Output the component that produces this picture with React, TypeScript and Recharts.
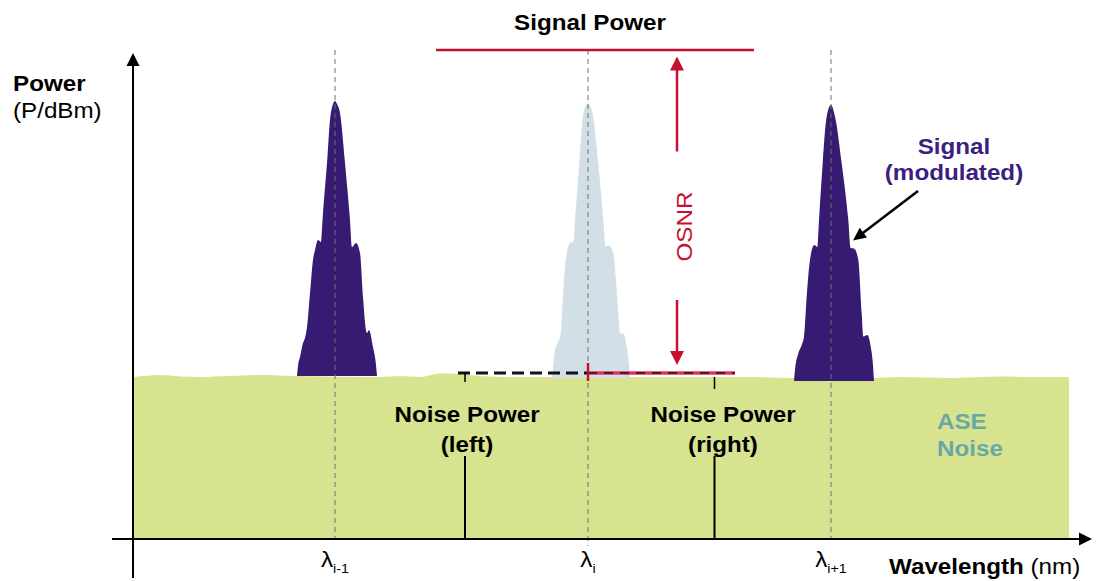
import React from 'react';
import { ComposedChart, Area, XAxis, YAxis, ReferenceLine, ReferenceDot } from 'recharts';

const FONT = '"Liberation Sans", Arial, Helvetica, sans-serif';
const SX = 1.1;

const GREEN = '#d7e38e';
const PURPLE = '#371a72';
const LIGHT = '#d3dfe7';
const RED = '#c8102e';
const TEAL = '#6aa8a8';
const PURPLE_TXT = '#3c2080';

// ASE noise floor (relative wavelength, relative power)
const aseNoise = [
  { x: 0, y: 32.4 }, { x: 2.7, y: 32.8 }, { x: 4.7, y: 32.5 }, { x: 6.7, y: 32.4 },
  { x: 9.7, y: 32.6 }, { x: 12.7, y: 32.8 }, { x: 16.4, y: 32.6 }, { x: 24.7, y: 32.4 },
  { x: 26.7, y: 32.6 }, { x: 28.7, y: 32.4 }, { x: 30.7, y: 33.1 }, { x: 32.7, y: 33.0 },
  { x: 34.7, y: 32.6 }, { x: 37.7, y: 32.4 }, { x: 41.7, y: 32.4 }, { x: 49.7, y: 32.4 },
  { x: 56.7, y: 32.4 }, { x: 61.7, y: 32.4 }, { x: 66.0, y: 32.2 }, { x: 74.2, y: 32.2 },
  { x: 76.7, y: 32.4 }, { x: 81.7, y: 32.2 }, { x: 86.7, y: 32.5 }, { x: 89.7, y: 32.4 },
  { x: 93.6, y: 32.4 },
];

// Modulated channel spectra
const channelPrev = [
  { x: 16.4, y: 32.6 }, { x: 16.5, y: 34.6 }, { x: 16.7, y: 36.4 }, { x: 17.0, y: 39.2 },
  { x: 17.2, y: 40.2 }, { x: 17.4, y: 42.4 }, { x: 17.7, y: 49.2 }, { x: 18.0, y: 55.8 },
  { x: 18.2, y: 57.8 }, { x: 18.5, y: 59.8 }, { x: 18.8, y: 59.4 }, { x: 19.0, y: 65.2 },
  { x: 19.4, y: 75.2 }, { x: 19.7, y: 83.8 }, { x: 20.0, y: 87.0 }, { x: 20.2, y: 87.6 },
  { x: 20.4, y: 87.0 }, { x: 20.7, y: 85.2 }, { x: 21.2, y: 75.2 }, { x: 21.7, y: 63.8 },
  { x: 21.9, y: 58.4 }, { x: 22.3, y: 59.2 }, { x: 22.7, y: 57.2 }, { x: 23.0, y: 48.4 },
  { x: 23.4, y: 41.2 }, { x: 23.6, y: 41.8 }, { x: 24.0, y: 38.4 }, { x: 24.3, y: 34.8 },
  { x: 24.4, y: 32.6 },
];
const channelCur = [
  { x: 41.87, y: 32.2 }, { x: 41.95, y: 33.2 }, { x: 42.2, y: 37.8 }, { x: 42.53, y: 39.5 },
  { x: 42.77, y: 41.1 }, { x: 42.95, y: 46.8 }, { x: 43.1, y: 51.8 }, { x: 43.37, y: 57.1 },
  { x: 43.77, y: 59.3 }, { x: 44.03, y: 59.4 }, { x: 44.2, y: 63.8 }, { x: 44.63, y: 75.1 },
  { x: 45.03, y: 85.1 }, { x: 45.47, y: 87.1 }, { x: 45.87, y: 85.8 }, { x: 46.53, y: 75.1 },
  { x: 47.03, y: 63.8 }, { x: 47.27, y: 58.5 }, { x: 47.6, y: 58.7 }, { x: 48.03, y: 57.1 },
  { x: 48.3, y: 51.8 }, { x: 48.53, y: 45.1 }, { x: 48.7, y: 41.1 }, { x: 49.03, y: 41.1 },
  { x: 49.37, y: 38.5 }, { x: 49.6, y: 34.8 }, { x: 49.7, y: 32.2 },
];
const channelNext = [
  { x: 66.1, y: 31.6 }, { x: 66.2, y: 33.8 }, { x: 66.53, y: 37.1 }, { x: 66.87, y: 38.8 },
  { x: 67.1, y: 40.5 }, { x: 67.37, y: 48.5 }, { x: 67.7, y: 55.8 }, { x: 68.13, y: 58.8 },
  { x: 68.43, y: 58.4 }, { x: 68.6, y: 63.8 }, { x: 68.97, y: 75.1 }, { x: 69.37, y: 84.5 },
  { x: 69.8, y: 86.8 }, { x: 70.2, y: 84.5 }, { x: 70.87, y: 75.1 }, { x: 71.53, y: 63.8 },
  { x: 71.77, y: 58.2 }, { x: 72.1, y: 58.1 }, { x: 72.53, y: 55.8 }, { x: 72.87, y: 45.1 },
  { x: 73.03, y: 40.5 }, { x: 73.43, y: 40.8 }, { x: 73.77, y: 38.5 }, { x: 74.0, y: 34.8 },
  { x: 74.1, y: 31.6 },
];
const channelBase = [32.6, 32.2, 31.6];

const channelCenters = [20.2, 45.5, 69.8];
const channelSubs = ['i-1', 'i', 'i+1'];

const SIGNAL_LEVEL = 97.8;
const SIGNAL_SPAN = [30.3, 62.1];
const NOISE_LEVEL = 33.2;
const NOISE_LEFT = 32.5;
const NOISE_RIGHT = 60.2;
const NOISE_LEFT_MARK = 33.2;
const NOISE_RIGHT_MARK = 58.15;
const OSNR_X = 54.4;

const X_DOMAIN = [-13.3, 97.1];
const Y_DOMAIN = [-8.4, 107.8];

const arrowShape = (len: number, half: number) => (p: any) => {
  const { x1, y1, x2, y2, stroke, strokeWidth } = p;
  const dx = x2 - x1;
  const dy = y2 - y1;
  const d = Math.hypot(dx, dy) || 1;
  const ux = dx / d;
  const uy = dy / d;
  const bx = x2 - ux * len;
  const by = y2 - uy * len;
  const px = -uy * half;
  const py = ux * half;
  return (
    <g>
      <line x1={x1} y1={y1} x2={bx + ux * 1} y2={by + uy * 1} stroke={stroke} strokeWidth={strokeWidth} />
      <polygon points={`${x2},${y2} ${bx + px},${by + py} ${bx - px},${by - py}`} fill={stroke} />
    </g>
  );
};

type TxtOpts = {
  size?: number;
  weight?: string;
  fill?: string;
  anchor?: 'start' | 'middle' | 'end';
  rotate?: number;
};

const note = (key: string, x: number, y: number, content: React.ReactNode, o: TxtOpts = {}) => (
  <ReferenceDot
    key={key}
    x={x}
    y={y}
    r={0}
    ifOverflow="visible"
    shape={(p: any) => (
      <text
        transform={`translate(${p.cx},${p.cy}) rotate(${o.rotate ?? 0}) scale(${SX},1)`}
        x={0}
        y={0}
        fontFamily={FONT}
        fontSize={o.size ?? 22}
        fontWeight={o.weight ?? 'normal'}
        fill={o.fill ?? '#000'}
        textAnchor={o.anchor ?? 'middle'}
      >
        {content}
      </text>
    )}
  />
);

const seg = (key: string, a: [number, number], b: [number, number], props: any) => (
  <ReferenceLine
    key={key}
    segment={[{ x: a[0], y: a[1] }, { x: b[0], y: b[1] }]}
    ifOverflow="visible"
    {...props}
  />
);

export default function App() {
  const peaks = [channelPrev, channelCur, channelNext];
  return (
    <div style={{ position: 'absolute', left: 0, top: 0, width: 1104, height: 581, background: '#fff' }}>
      <ComposedChart width={1104} height={581} margin={{ top: 0, right: 0, bottom: 0, left: 0 }}>
        <XAxis type="number" dataKey="x" domain={X_DOMAIN} allowDataOverflow hide />
        <YAxis type="number" dataKey="y" domain={Y_DOMAIN} allowDataOverflow hide />
        <Area
          data={aseNoise}
          dataKey="y"
          type="monotone"
          stroke="none"
          fill={GREEN}
          fillOpacity={1}
          dot={false}
          activeDot={false}
          isAnimationActive={false}
          baseValue={0}
        />
        {peaks.map((d, i) => (
          <Area
            key={'peak' + i}
            data={d}
            dataKey="y"
            type="monotone"
            stroke="none"
            fill={i === 1 ? LIGHT : PURPLE}
            fillOpacity={1}
            dot={false}
            activeDot={false}
            baseValue={channelBase[i]}
            isAnimationActive={false}
          />
        ))}

        {channelCenters.map((c, i) =>
          seg('grid' + i, [c, SIGNAL_LEVEL], [c, i === 1 ? -1.4 : 0], {
            stroke: '#707070',
            strokeWidth: 1,
            strokeDasharray: '5 4',
          })
        )}

        {/* axes */}
        {seg('yaxis', [0, -7.8], [0, 97.2], { stroke: '#000', strokeWidth: 2, shape: arrowShape(13, 6.5) })}
        {seg('xaxis', [-2.1, 0], [95.9, 0], { stroke: '#000', strokeWidth: 2, shape: arrowShape(13, 6.5) })}

        {/* signal power */}
        {seg('sig', [SIGNAL_SPAN[0], SIGNAL_LEVEL], [SIGNAL_SPAN[1], SIGNAL_LEVEL], { stroke: RED, strokeWidth: 2.5 })}
        {seg('osnrUp', [OSNR_X, 77.5], [OSNR_X, 96.5], { stroke: RED, strokeWidth: 2.5, shape: arrowShape(14, 7) })}
        {seg('osnrDown', [OSNR_X, 47.8], [OSNR_X, 34.8], { stroke: RED, strokeWidth: 2.5, shape: arrowShape(14, 7) })}

        {/* noise markers */}
        {seg('nl', [NOISE_LEFT, NOISE_LEVEL], [channelCenters[1], NOISE_LEVEL], {
          stroke: '#111',
          strokeWidth: 3,
          strokeDasharray: '12 6',
        })}
        {seg('nr', [channelCenters[1], NOISE_LEVEL], [NOISE_RIGHT, NOISE_LEVEL], { stroke: '#d8395c', strokeWidth: 3.5 })}
        {seg('nr2', [channelCenters[1], NOISE_LEVEL], [NOISE_RIGHT, NOISE_LEVEL], {
          stroke: '#2a0a10',
          strokeWidth: 1.3,
          strokeDasharray: '9 7',
        })}
        {seg('ntick', [channelCenters[1], 35.2], [channelCenters[1], 31.6], { stroke: RED, strokeWidth: 2.5 })}
        {seg('lt', [NOISE_LEFT_MARK, NOISE_LEVEL], [NOISE_LEFT_MARK, 31.4], { stroke: '#000', strokeWidth: 1.5 })}
        {seg('rt', [NOISE_RIGHT_MARK, 32.4], [NOISE_RIGHT_MARK, 30.0], { stroke: '#000', strokeWidth: 1.5 })}
        {seg('ll', [NOISE_LEFT_MARK, 16.6], [NOISE_LEFT_MARK, 0], { stroke: '#000', strokeWidth: 2 })}
        {seg('rl', [NOISE_RIGHT_MARK, 16.6], [NOISE_RIGHT_MARK, 0], { stroke: '#000', strokeWidth: 2 })}

        {/* signal pointer */}
        {seg('sp', [78.5, 69.6], [72.0, 59.7], { stroke: '#000', strokeWidth: 2.5, shape: arrowShape(13, 6) })}

        {/* texts */}
        {note('t1', 45.7, 101.8, 'Signal Power', { weight: 'bold' })}
        {note('t2', -12.0, 89.7, 'Power', { weight: 'bold', anchor: 'start' })}
        {note('t3', -12.0, 84.2, '(P/dBm)', { anchor: 'start' })}
        {note('t4', 55.85, 62.5, 'OSNR', { fill: RED, rotate: -90 })}
        {note('t5', NOISE_LEFT_MARK + 0.2, 23.5, 'Noise Power', { weight: 'bold' })}
        {note('t6', NOISE_LEFT_MARK + 0.2, 17.5, '(left)', { weight: 'bold' })}
        {note('t7', 59.0, 23.5, 'Noise Power', { weight: 'bold' })}
        {note('t8', 59.0, 17.5, '(right)', { weight: 'bold' })}
        {note('t9', 80.4, 22.1, 'ASE', { weight: 'bold', fill: TEAL, anchor: 'start' })}
        {note('t10', 80.4, 16.6, 'Noise', { weight: 'bold', fill: TEAL, anchor: 'start' })}
        {note('t11', 82.1, 77.1, 'Signal', { weight: 'bold', fill: PURPLE_TXT })}
        {note('t12', 82.1, 71.8, '(modulated)', { weight: 'bold', fill: PURPLE_TXT })}
        {channelCenters.map((c, i) =>
          note('lam' + i, c, -5.5, (
            <>
              <tspan>λ</tspan>
              <tspan fontSize={13} dy={6}>{channelSubs[i]}</tspan>
            </>
          ))
        )}
        {note('t13', 75.6, -7.0, (
          <>
            <tspan fontWeight="bold">Wavelength</tspan>
            <tspan> (nm)</tspan>
          </>
        ), { anchor: 'start' })}
      </ComposedChart>
    </div>
  );
}
